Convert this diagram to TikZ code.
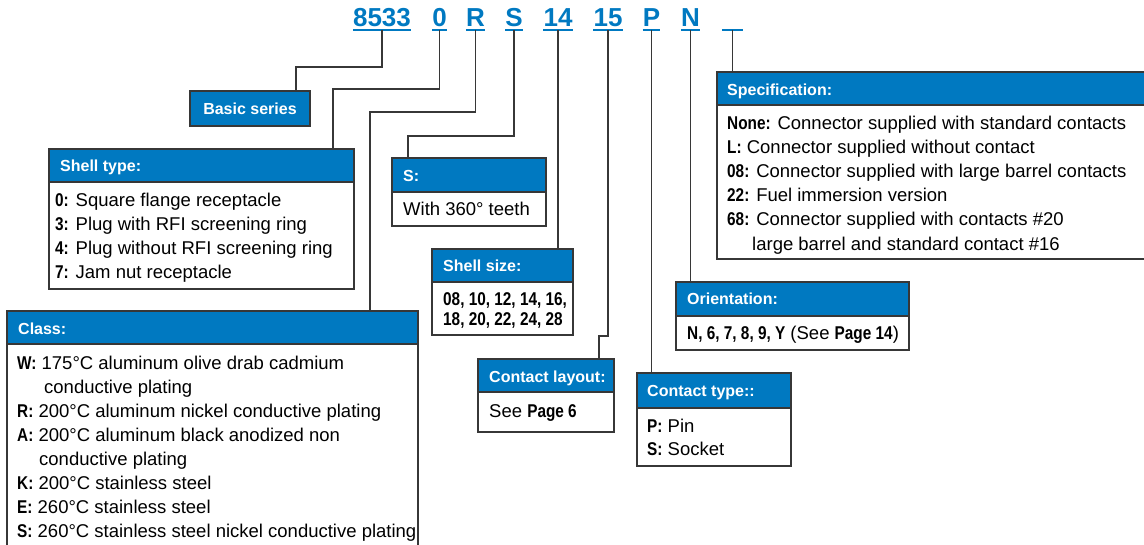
\documentclass[tikz,border=0pt]{standalone}
\usepackage{fontspec}
\setmainfont{Liberation Sans}[BoldFeatures={FakeStretch=0.83}]
\newfontfamily\hfont{Liberation Sans}
\definecolor{cblue}{RGB}{0,121,193}
\definecolor{bord}{RGB}{55,55,55}
\tikzset{
  frame/.style={draw=bord, line width=1.2pt, fill=white, inner sep=0pt, outer sep=0pt, anchor=north west},
  hdr/.style={draw=bord, line width=1.2pt, fill=cblue, inner sep=0pt, outer sep=0pt, anchor=north west},
  htxt/.style={anchor=base west, inner sep=0pt, text=white, font=\hfont\bfseries\fontsize{16}{19}\selectfont},
  btxt/.style={anchor=north west, inner sep=0pt, align=left, font=\fontsize{18.5}{24}\selectfont},
  code/.style={anchor=base, inner xsep=0pt, inner ysep=0pt, text=cblue, font=\hfont\bfseries\fontsize{26}{30}\selectfont},
  ul/.style={draw=cblue, line width=1.5pt},
  conn/.style={draw=bord, line width=1.3pt},
}
\newcommand{\fr}{\rule{0pt}{15pt}}
\begin{document}
\begin{tikzpicture}[x=1pt,y=-1pt]
\useasboundingbox (0,0) rectangle (1144,545);

% code letters
\node[code] (c1) at (382,27) {8533};
\node[code] (c2) at (439.5,27) {0};
\node[code] (c3) at (475.5,27) {R};
\node[code] (c4) at (514,27) {S};
\node[code] (c5) at (558,27) {14};
\node[code] (c6) at (608,27) {15};
\node[code] (c7) at (651.5,27) {P};
\node[code] (c8) at (690.5,27) {N};
\node[code, minimum width=21pt] (c9) at (732.5,27) {\vphantom{N}};
\foreach \i in {1,...,9}{
  \draw[ul] ([yshift=-3pt]c\i.base west) -- ([yshift=-3pt]c\i.base east);
  \coordinate (u\i) at ([yshift=-3pt]c\i.base);
}

% Basic series
\node[hdr, minimum width=120pt, minimum height=35pt] (basic) at (190,91) {};
\node[anchor=center, inner sep=0pt, text=white, font=\hfont\bfseries\fontsize{16}{19}\selectfont] (basict) at (basic.center) {Basic series};

% Shell type
\node[frame, minimum width=305pt, minimum height=140pt] (st) at (49,149) {};
\node[hdr, minimum width=305pt, minimum height=33pt] (sth) at (st.north west) {};
\node[htxt] (stt) at (60,172) {Shell type:};
\node[btxt] (stb) at (55,191) {\fr\textbf{0:} Square flange receptacle\\
\textbf{3:} Plug with RFI screening ring\\
\textbf{4:} Plug without RFI screening ring\\
\textbf{7:} Jam nut receptacle};

% Class
\node[frame, minimum width=411pt, minimum height=260pt] (cls) at (7,311) {};
\node[hdr, minimum width=411pt, minimum height=33pt] (clsh) at (cls.north west) {};
\node[htxt] (clst) at (18,335) {Class:};
\node[btxt] (clsb) at (17,354) {\fr\textbf{W:} 175°C aluminum olive drab cadmium\\
\hspace*{27pt}conductive plating\\
\textbf{R:} 200°C aluminum nickel conductive plating\\
\textbf{A:} 200°C aluminum black anodized non\\
\hspace*{22pt}conductive plating\\
\textbf{K:} 200°C stainless steel\\
\textbf{E:} 260°C stainless steel\\
\textbf{S:} 260°C stainless steel nickel conductive plating};

% S
\node[frame, minimum width=154pt, minimum height=68pt] (sb) at (392,158) {};
\node[hdr, minimum width=154pt, minimum height=34pt] (sbh) at (sb.north west) {};
\node[htxt] (sbt) at (403,182) {S:};
\node[btxt] (sbb) at (403,200) {\fr With 360° teeth};

% Shell size
\node[frame, minimum width=141pt, minimum height=86pt] (ss) at (432,249) {};
\node[hdr, minimum width=141pt, minimum height=33pt] (ssh) at (ss.north west) {};
\node[htxt] (sst) at (443,272) {Shell size:};
\node[btxt, font=\bfseries\fontsize{18.5}{20}\selectfont] (ssb) at (443,290) {\fr 08, 10, 12, 14, 16,\\
18, 20, 22, 24, 28};

% Contact layout
\node[frame, minimum width=136pt, minimum height=73pt] (cl) at (478,359) {};
\node[hdr, minimum width=136pt, minimum height=33pt] (clh) at (cl.north west) {};
\node[htxt] (clt) at (489,383) {Contact layout:};
\node[btxt] (clb) at (489,402) {\fr See \textbf{Page 6}};

% Contact type
\node[frame, minimum width=154pt, minimum height=93pt] (ct) at (637,373) {};
\node[hdr, minimum width=154pt, minimum height=35pt] (cth) at (ct.north west) {};
\node[htxt] (ctt) at (647,397) {Contact type::};
\node[btxt, font=\fontsize{18.5}{23.5}\selectfont] (ctb) at (647,417) {\fr\textbf{P:} Pin\\
\textbf{S:} Socket};

% Orientation
\node[frame, minimum width=233pt, minimum height=68pt] (ori) at (676,282) {};
\node[hdr, minimum width=233pt, minimum height=34pt] (orih) at (ori.north west) {};
\node[htxt] (orit) at (687,305) {Orientation:};
\node[btxt] (orib) at (687,324) {\fr\textbf{N, 6, 7, 8, 9, Y} (See \textbf{Page 14})};

% Specification
\node[frame, minimum width=440pt, minimum height=187pt] (sp) at (717,72) {};
\node[hdr, minimum width=440pt, minimum height=33pt] (sph) at (sp.north west) {};
\node[htxt] (spt) at (727,96) {Specification:};
\node[btxt, font=\fontsize{18.5}{24.2}\selectfont] (spb) at (727,114) {\fr\textbf{None:} Connector supplied with standard contacts\\
\textbf{L:} Connector supplied without contact\\
\textbf{08:} Connector supplied with large barrel contacts\\
\textbf{22:} Fuel immersion version\\
\textbf{68:} Connector supplied with contacts \#20\\
\hspace*{25pt}large barrel and standard contact \#16};

% connectors
\draw[conn] (u1) -- (u1 |- 0,67) -| ([xshift=106pt]basic.north west);
\draw[conn] (u2) -- (u2 |- 0,89) -| ([xshift=284pt]st.north west);
\draw[conn] (u3) -- (u3 |- 0,112) -| ([xshift=363pt]cls.north west);
\draw[conn] (u4) -- (u4 |- 0,136) -| ([xshift=16pt]sb.north west);
\draw[conn] (u5) -- (u5 |- ss.north);
\draw[conn] (u6) -- (u6 |- 0,336) -| ([xshift=121pt]cl.north west);
\draw[conn] (u7) -- (u7 |- ct.north);
\draw[conn] (u8) -- (u8 |- ori.north);
\draw[conn] (u9) -- (u9 |- sp.north);
\end{tikzpicture}
\end{document}
